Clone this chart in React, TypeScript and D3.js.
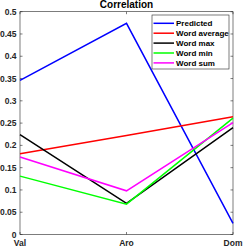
import React, { useEffect, useRef } from 'react';
import * as d3 from 'd3';

const categories = ['Val', 'Aro', 'Dom'];
const seriesNames = ['Predicted', 'Word average', 'Word max', 'Word min', 'Word sum'];
const seriesColors = ['#0000ff', '#ff0000', '#000000', '#00ff00', '#ff00ff'];
const predicted = [0.346, 0.474, 0.025];
const wordAverage = [0.181, 0.222, 0.264];
const wordMax = [0.224, 0.07, 0.24];
const wordMin = [0.131, 0.068, 0.261];
const wordSum = [0.174, 0.098, 0.251];
const yTicks = [0, 0.05, 0.1, 0.15, 0.2, 0.25, 0.3, 0.35, 0.4, 0.45, 0.5];

const App = () => {
    const ref = useRef<SVGSVGElement>(null);

    useEffect(() => {
        const svg = d3.select(ref.current);
        svg.selectAll('*').remove();

        const left = 20, right = 233, top = 11.7, bottom = 234.5;
        const font = '"Liberation Sans", Arial, sans-serif';

        const x = d3.scalePoint().domain(categories).range([left, right]);
        const y = d3.scaleLinear().domain([0, 0.5]).range([bottom, top]);

        // white plot area with box
        svg.append('rect')
            .attr('x', left).attr('y', top)
            .attr('width', right - left).attr('height', bottom - top)
            .attr('fill', '#fff').attr('stroke', '#262626').attr('stroke-width', 0.6);

        // ticks inside, both sides
        const tg = svg.append('g').attr('stroke', '#262626').attr('stroke-width', 0.6);
        yTicks.forEach(t => {
            tg.append('line').attr('x1', left).attr('x2', left + 2.5).attr('y1', y(t)).attr('y2', y(t));
            tg.append('line').attr('x1', right).attr('x2', right - 2.5).attr('y1', y(t)).attr('y2', y(t));
        });
        categories.forEach(c => {
            tg.append('line').attr('x1', x(c)!).attr('x2', x(c)!).attr('y1', bottom).attr('y2', bottom - 2.5);
            tg.append('line').attr('x1', x(c)!).attr('x2', x(c)!).attr('y1', top).attr('y2', top + 2.5);
        });

        svg.append('g').selectAll('text').data(yTicks).join('text')
            .attr('x', left - 3.5).attr('y', d => y(d) + 3)
            .attr('text-anchor', 'end')
            .attr('font-family', font).attr('font-weight', 'bold').attr('font-size', 8.5)
            .attr('fill', '#262626')
            .text(d => String(d));

        svg.append('g').selectAll('text').data(categories).join('text')
            .attr('x', d => x(d)!).attr('y', bottom + 11.5)
            .attr('text-anchor', 'middle')
            .attr('font-family', font).attr('font-weight', 'bold').attr('font-size', 8.5)
            .attr('fill', '#262626')
            .text(d => d);

        svg.append('text')
            .attr('x', (left + right) / 2).attr('y', 8)
            .attr('text-anchor', 'middle')
            .attr('font-family', font).attr('font-weight', 'bold').attr('font-size', 10)
            .attr('fill', '#000')
            .text('Correlation');

        const allSeries = [predicted, wordAverage, wordMax, wordMin, wordSum];
        const line = d3.line<number>()
            .x((d, i) => x(categories[i])!)
            .y(d => y(d));

        allSeries.forEach((s, i) => {
            svg.append('path')
                .datum(s)
                .attr('fill', 'none')
                .attr('stroke', seriesColors[i])
                .attr('stroke-width', 1.5)
                .attr('d', line);
        });

        // legend
        const lx = 152, ly = 15, lw = 77, lh = 54;
        const lg = svg.append('g');
        lg.append('rect')
            .attr('x', lx).attr('y', ly).attr('width', lw).attr('height', lh)
            .attr('fill', '#fff').attr('stroke', '#262626').attr('stroke-width', 0.6);
        seriesNames.forEach((name, i) => {
            const yy = ly + 8.3 + i * 9.9;
            lg.append('line')
                .attr('x1', lx + 1.5).attr('x2', lx + 22)
                .attr('y1', yy).attr('y2', yy)
                .attr('stroke', seriesColors[i]).attr('stroke-width', 1.5);
            lg.append('text')
                .attr('x', lx + 24).attr('y', yy + 3)
                .attr('font-family', font).attr('font-weight', 'bold').attr('font-size', 8)
                .attr('fill', '#000')
                .text(name);
        });
    }, []);

    return (
        <svg ref={ref} width={243} height={247}
             style={{ position: 'absolute', left: 0, top: 0, background: '#fff' }} />
    );
};

export default App;
